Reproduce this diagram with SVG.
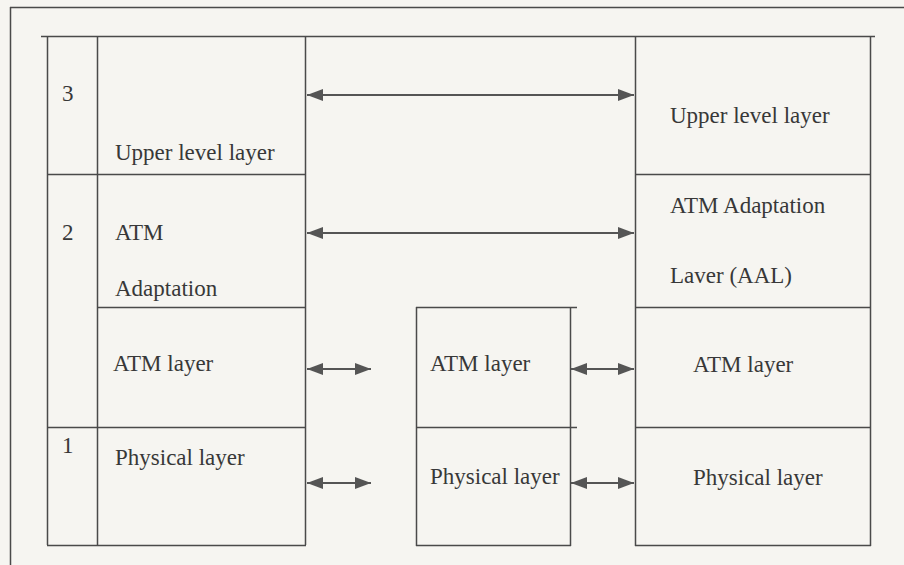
<svg xmlns="http://www.w3.org/2000/svg" width="904" height="565" viewBox="0 0 904 565">
<defs>
<style>
.ln{stroke:#4a4a4a;stroke-width:1.5;fill:none}
.t{font-family:"Liberation Serif","Times New Roman",serif;font-size:23px;fill:#383838}
.ar{stroke:#555;stroke-width:2;fill:none;marker-start:url(#ah);marker-end:url(#ah)}
</style>
<marker id="ah" viewBox="0 0 16 12" refX="16" refY="6" markerWidth="16" markerHeight="12" markerUnits="userSpaceOnUse" orient="auto-start-reverse">
<path d="M0,0 L16,6 L0,12 z" fill="#555"/>
</marker>
</defs>
<rect width="904" height="565" fill="#f6f5f1"/>
<g id="frame">
<line class="ln" x1="10" y1="7.5" x2="904" y2="7.5"/>
<line class="ln" x1="10.5" y1="7" x2="10.5" y2="565"/>
<line class="ln" x1="41" y1="36.5" x2="875" y2="36.5"/>
</g>
<g id="left-stack">
<line class="ln" x1="47.5" y1="36" x2="47.5" y2="545"/>
<line class="ln" x1="97.5" y1="36" x2="97.5" y2="545"/>
<line class="ln" x1="305.5" y1="36" x2="305.5" y2="545"/>
<line class="ln" x1="47" y1="174.5" x2="306" y2="174.5"/>
<line class="ln" x1="97" y1="307.5" x2="306" y2="307.5"/>
<line class="ln" x1="47" y1="427.5" x2="306" y2="427.5"/>
<line class="ln" x1="47" y1="545.5" x2="306" y2="545.5"/>
<text class="t" x="62" y="101">3</text>
<text class="t" x="115" y="160">Upper level layer</text>
<text class="t" x="62" y="240">2</text>
<text class="t" x="115" y="240">ATM</text>
<text class="t" x="115" y="296">Adaptation</text>
<text class="t" x="113" y="371">ATM layer</text>
<text class="t" x="62" y="453">1</text>
<text class="t" x="115" y="465">Physical layer</text>
</g>
<g id="middle-stack">
<line class="ln" x1="416" y1="307.5" x2="577" y2="307.5"/>
<line class="ln" x1="416" y1="427.5" x2="577" y2="427.5"/>
<line class="ln" x1="416" y1="545.5" x2="571" y2="545.5"/>
<line class="ln" x1="416.5" y1="307" x2="416.5" y2="546"/>
<line class="ln" x1="570.5" y1="307" x2="570.5" y2="546"/>
<text class="t" x="430" y="371">ATM layer</text>
<text class="t" x="430" y="484">Physical layer</text>
</g>
<g id="right-stack">
<line class="ln" x1="635.5" y1="36" x2="635.5" y2="546"/>
<line class="ln" x1="870.5" y1="36" x2="870.5" y2="546"/>
<line class="ln" x1="635" y1="174.5" x2="871" y2="174.5"/>
<line class="ln" x1="635" y1="307.5" x2="871" y2="307.5"/>
<line class="ln" x1="635" y1="427.5" x2="871" y2="427.5"/>
<line class="ln" x1="635" y1="545.5" x2="871" y2="545.5"/>
<text class="t" x="670" y="123">Upper level layer</text>
<text class="t" x="670" y="213">ATM Adaptation</text>
<text class="t" x="670" y="283">Laver (AAL)</text>
<text class="t" x="693" y="372">ATM layer</text>
<text class="t" x="693" y="485">Physical layer</text>
</g>
<g id="connectors">
<line class="ar" x1="307" y1="95" x2="634" y2="95"/>
<line class="ar" x1="307" y1="233" x2="634" y2="233"/>
<line class="ar" x1="307" y1="369" x2="371" y2="369"/>
<line class="ar" x1="307" y1="483" x2="371" y2="483"/>
<line class="ar" x1="571" y1="369" x2="634" y2="369"/>
<line class="ar" x1="571" y1="483" x2="634" y2="483"/>
</g>
</svg>
